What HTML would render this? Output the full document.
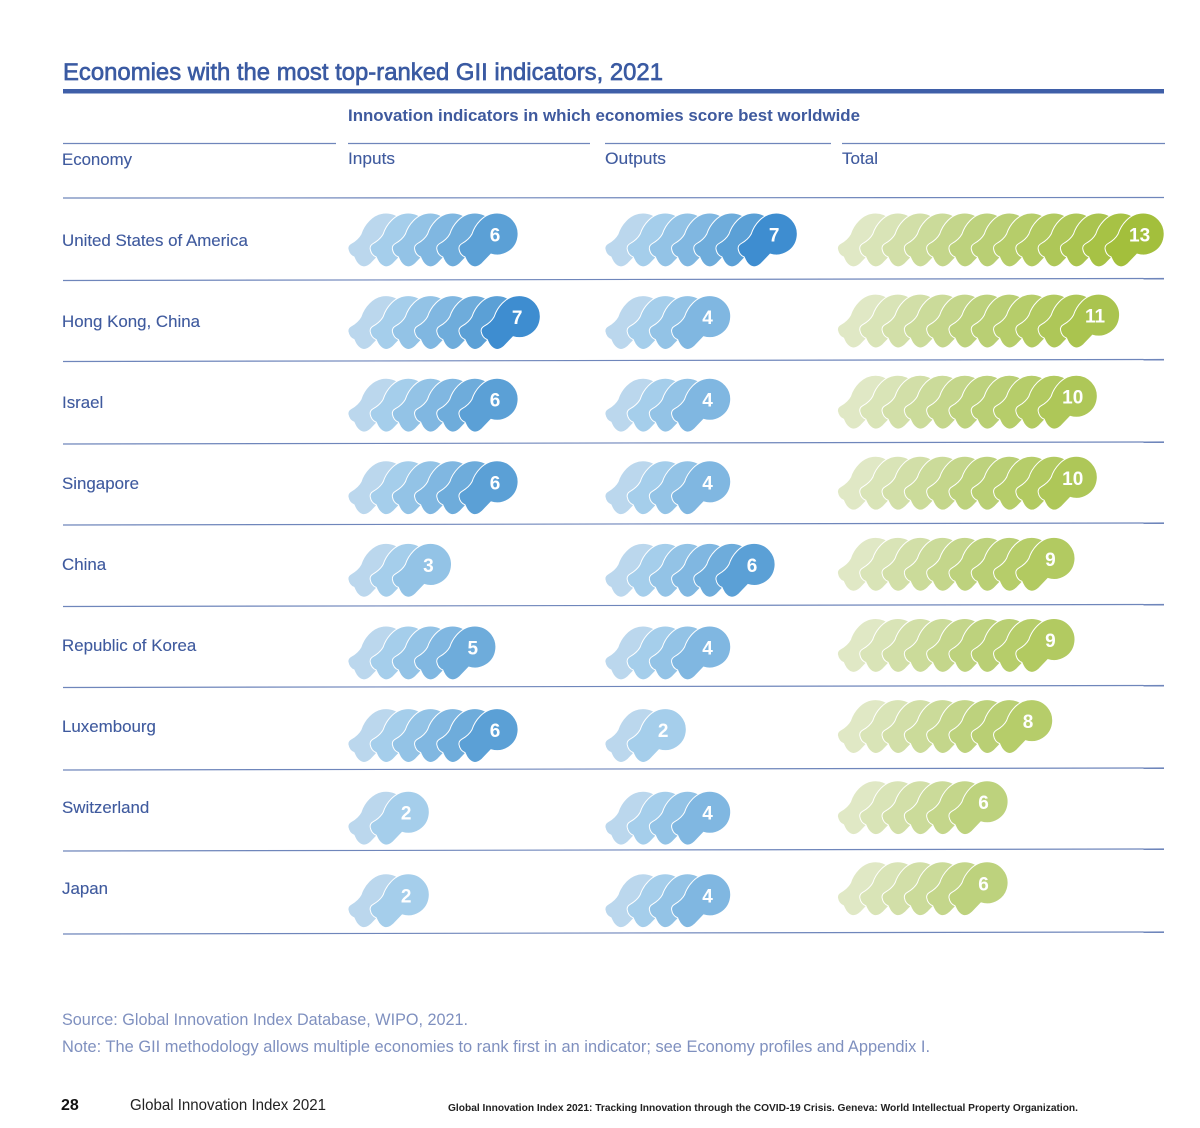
<!DOCTYPE html>
<html lang="en">
<head>
<meta charset="utf-8">
<title>Economies with the most top-ranked GII indicators, 2021</title>
<style>
html,body{margin:0;padding:0;background:#fff;width:1200px;height:1128px;overflow:hidden}
svg{display:block}
text{font-family:"Liberation Sans",sans-serif}
.lab{font-size:16.9px;fill:#3f5a9e;stroke:#3f5a9e;stroke-width:0.12px}
.src{font-size:17px;fill:#7f90bf}
.rule{stroke:#6f86bb;stroke-width:1.2}
</style>
</head>
<body>
<svg id="chart" xmlns="http://www.w3.org/2000/svg" width="1200" height="1128" viewBox="0 0 1200 1128">
  <text x="63" y="80" font-size="24" fill="#3a5aa2" stroke="#3a5aa2" stroke-width="0.65" textLength="600" lengthAdjust="spacingAndGlyphs">Economies with the most top-ranked GII indicators, 2021</text>
  <rect x="63" y="89" width="1101" height="4.5" fill="#3f5fa8"/>
  <text x="348" y="121" font-size="16.5" font-weight="bold" fill="#3f5a9e" textLength="512" lengthAdjust="spacingAndGlyphs">Innovation indicators in which economies score best worldwide</text>

  <line class="rule" x1="63" y1="143.5" x2="336" y2="143.5"/>
  <line class="rule" x1="348" y1="143.5" x2="590" y2="143.5"/>
  <line class="rule" x1="605" y1="143.5" x2="831" y2="143.5"/>
  <line class="rule" x1="842" y1="143.5" x2="1165" y2="143.5"/>

  <text class="lab" x="62" y="165" textLength="70" lengthAdjust="spacingAndGlyphs">Economy</text>
  <text class="lab" x="348" y="164" textLength="47" lengthAdjust="spacingAndGlyphs">Inputs</text>
  <text class="lab" x="605" y="164" textLength="61" lengthAdjust="spacingAndGlyphs">Outputs</text>
  <text class="lab" x="842" y="164" textLength="36" lengthAdjust="spacingAndGlyphs">Total</text>

  <line class="rule" x1="63" y1="198" x2="1164" y2="197.5"/>
  <line class="rule" x1="63" y1="280.5" x2="1164" y2="278.5"/>
  <line class="rule" x1="63" y1="361.5" x2="1164" y2="359.5"/>
  <line class="rule" x1="63" y1="444" x2="1164" y2="442"/>
  <line class="rule" x1="63" y1="525" x2="1164" y2="523"/>
  <line class="rule" x1="63" y1="606.5" x2="1164" y2="604.5"/>
  <line class="rule" x1="63" y1="687.5" x2="1164" y2="685.5"/>
  <line class="rule" x1="63" y1="770" x2="1164" y2="768"/>
  <line class="rule" x1="63" y1="851" x2="1164" y2="849"/>
  <line class="rule" x1="63" y1="934" x2="1164" y2="932"/>

  <g id="marks"></g>

  <text class="src" x="62" y="1025" textLength="406" lengthAdjust="spacingAndGlyphs">Source: Global Innovation Index Database, WIPO, 2021.</text>
  <text class="src" x="62" y="1052" textLength="868" lengthAdjust="spacingAndGlyphs">Note: The GII methodology allows multiple economies to rank first in an indicator; see Economy profiles and Appendix I.</text>
  <text x="61" y="1110" font-size="16" font-weight="bold" fill="#111">28</text>
  <text x="130" y="1110" font-size="16" fill="#222" textLength="196" lengthAdjust="spacingAndGlyphs">Global Innovation Index 2021</text>
  <text x="448" y="1111" font-size="10.5" font-weight="bold" fill="#222" textLength="630" lengthAdjust="spacingAndGlyphs">Global Innovation Index 2021: Tracking Innovation through the COVID-19 Crisis. Geneva: World Intellectual  Property Organization.</text>
</svg>
<script>
var economies = ["United States of America","Hong Kong, China","Israel","Singapore","China","Republic of Korea","Luxembourg","Switzerland","Japan"];
var inputs = [6,7,6,6,3,5,6,2,2];
var outputs = [7,4,4,4,6,4,2,4,4];
var totals = [13,11,10,10,9,9,8,6,6];

var NS = "http://www.w3.org/2000/svg";
var marks = document.getElementById("marks");
var HEAD = "M0,-21 A21,21 0 1 1 -6,20.1 L-15,29.5 Q-20,34 -24,32.5 Q-27,31.5 -29.5,28 Q-31,25.5 -32,23 Q-37,21 -38,15 Q-38.5,11.5 -35,9.5 Q-28,5.5 -25,0 C-22.5,-8 -14,-21 0,-21 Z";
var STEP = 22.2;

function labelY(row){ return 240 + row * 81; }
function inputsHeadX(i){ return 386 + i * STEP; }
function outputsHeadX(i){ return 643 + i * STEP; }
function totalHeadX(i){ return 875.5 + i * 22.3; }
function sideRowY(row){ return 234 + row * 82.6; }
function totalRowY(row){ return 234 + row * 81.1; }

function mix(a, b, t){
  var out = [];
  for (var k = 0; k < 3; k++) out.push(Math.round(a[k] + (b[k] - a[k]) * t));
  return "rgb(" + out.join(",") + ")";
}
function blueShade(i){
  if (i <= 1) return mix([187,215,237],[165,206,235], i);
  if (i <= 5) return mix([165,206,235],[91,160,214], (i - 1) / 4);
  return mix([91,160,214],[62,141,208], i - 5);
}
function greenShade(i){
  if (i <= 5) return mix([224,232,197],[189,210,125], i / 5);
  return mix([189,210,125],[163,191,60], (i - 5) / 7);
}

function drawSeries(values, xFn, yFn, shade, seriesName, textShift){
  values.forEach(function(count, row){
    var y = yFn(row);
    for (var i = 0; i < count; i++){
      var p = document.createElementNS(NS, "path");
      p.setAttribute("d", HEAD);
      p.setAttribute("transform", "translate(" + xFn(i) + "," + y + ")");
      p.setAttribute("fill", shade(i));
      p.setAttribute("stroke", "#fff");
      p.setAttribute("stroke-width", "1");
      
      
      marks.appendChild(p);
    }
    var t = document.createElementNS(NS, "text");
    t.setAttribute("x", xFn(count - 1) + textShift);
    t.setAttribute("y", y + 7.5);
    t.setAttribute("text-anchor", "middle");
    t.setAttribute("font-size", "19");
    t.setAttribute("font-weight", "bold");
    t.setAttribute("fill", "#fff");
    
    
    t.textContent = count;
    marks.appendChild(t);
  });
}

economies.forEach(function(name, row){
  var t = document.createElementNS(NS, "text");
  t.setAttribute("class", "lab");
  t.setAttribute("x", 62);
  t.setAttribute("y", labelY(row) + 6);
  
  
  t.textContent = name;
  marks.appendChild(t);
});

drawSeries(inputs, inputsHeadX, sideRowY, blueShade, "inputs", -2);
drawSeries(outputs, outputsHeadX, sideRowY, blueShade, "outputs", -2);
drawSeries(totals, totalHeadX, totalRowY, greenShade, "total", -3.5);
</script>
</body>
</html>
